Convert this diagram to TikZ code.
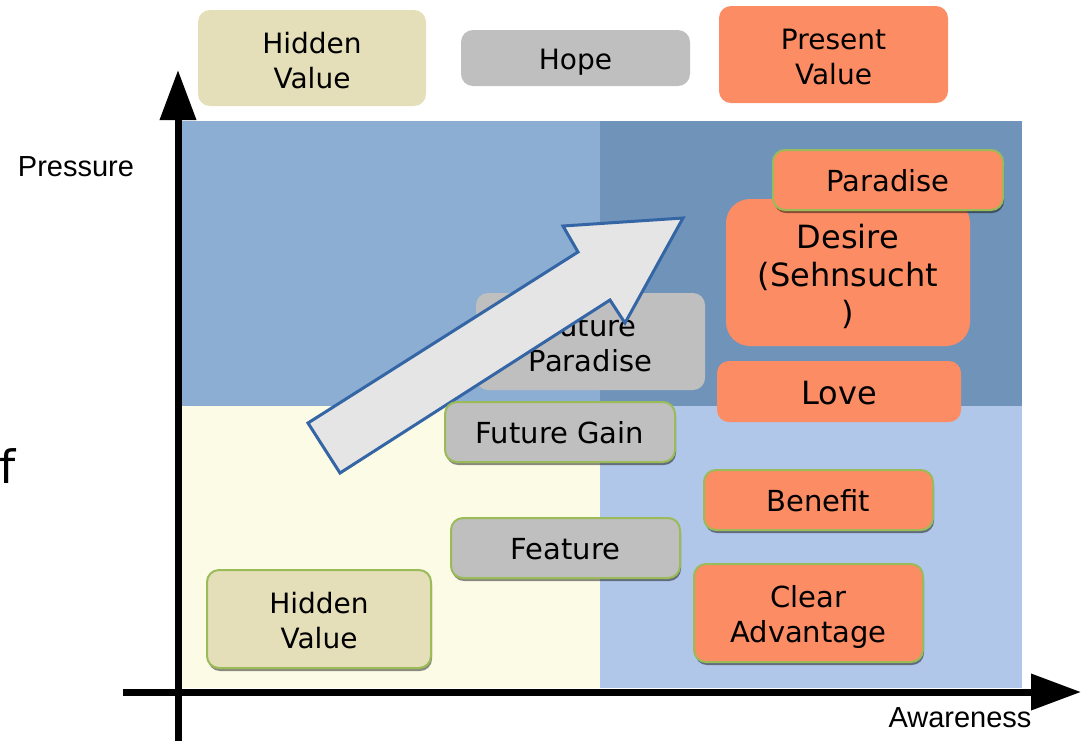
\documentclass[tikz,border=0pt]{standalone}
\usepackage{fontspec}
\usepackage{tikz}
\usetikzlibrary{arrows.meta,shadows}
\newfontfamily\boxfont{DejaVu Sans}
\newfontfamily\axisfont{Liberation Sans}
\definecolor{tanfill}{RGB}{228,223,184}
\definecolor{grayfill}{RGB}{191,191,191}
\definecolor{salmon}{RGB}{252,140,100}
\definecolor{framegreen}{RGB}{155,187,89}
\definecolor{quadTL}{RGB}{141,174,211}
\definecolor{quadTR}{RGB}{112,148,185}
\definecolor{quadBL}{RGB}{252,251,230}
\definecolor{quadBR}{RGB}{177,199,233}
\definecolor{arrowedge}{RGB}{52,101,164}
\newcommand{\dropline}[1]{\rule{0pt}{#1}}

\begin{document}
\begin{tikzpicture}[x=0.5pt,y=-0.5pt,
    box/.style={rounded corners=6pt,inner sep=0pt,align=center,
                font=\boxfont\fontsize{14.5}{17.5}\selectfont},
    framed/.style={draw=framegreen,line width=1pt,
                   drop shadow={shadow xshift=0.5pt,shadow yshift=-1.5pt,opacity=0.45,fill=black}},
    axis/.style={line width=3.5pt,-{Triangle[length=25pt,width=17.5pt]}},
    axislabel/.style={font=\axisfont\fontsize{14.5}{17}\selectfont,inner sep=0pt}]
  \tikzstyle{topbox}=[box,font=\boxfont\fontsize{14}{17.5}\selectfont]
  \tikzstyle{bigbox}=[box,font=\boxfont\fontsize{16}{19}\selectfont]

  \useasboundingbox (0,0) rectangle (1081,741);

  % quadrants
  \fill[quadTL] (180,121) rectangle (600,406);
  \fill[quadTR] (600,121) rectangle (1022,406);
  \fill[quadBL] (180,406) rectangle (600,688);
  \fill[quadBR] (600,406) rectangle (1022,688);

  % axes
  \coordinate (yStart) at (178,741);
  \coordinate (yEnd)   at (178,70);
  \coordinate (xStart) at (123,692);
  \coordinate (xEnd)   at (1081,692);
  \draw[axis] (yStart) -- (yEnd);
  \draw[axis] (xStart) -- (xEnd);
  \node[axislabel] (pressure)  at (76,167)  {Pressure};
  \node[axislabel] (awareness) at (960,718) {Awareness};
  \node[font=\boxfont\fontsize{23}{28}\selectfont,anchor=base west,inner sep=0pt] (cutF) at (-1,483) {f};

  % legend row
  \node[topbox,fill=tanfill,minimum width=114pt,minimum height=48pt]    (hvTop) at (312,58)    {\dropline{13.1pt}Hidden\\Value};
  \node[topbox,fill=grayfill,minimum width=114.5pt,minimum height=28pt] (hope)  at (575.5,58)  {\dropline{14.2pt}Hope};
  \node[topbox,fill=salmon,minimum width=114.5pt,minimum height=48.5pt] (pvTop) at (833.5,54.5) {\dropline{12.7pt}Present\\Value};

  \node[box,fill=grayfill,minimum width=114.5pt,minimum height=48.5pt] (futParadise) at (590.5,341.5) {\dropline{12.6pt}Future\\Paradise};

  % big arrow
  \draw[fill=black!10,draw=arrowedge,line width=1.5pt]
    (308,423) -- (340,473) -- (610,300) -- (625,323) -- (683,218) -- (563,226) -- (578,252) -- cycle;

  \node[bigbox,fill=salmon,rounded corners=12pt,minimum width=122pt,minimum height=73.5pt] (desire) at (848,272.5) {\dropline{16.2pt}Desire\\(Sehnsucht\\)};
  \node[box,framed,fill=salmon,minimum width=115pt,minimum height=30pt] (paradise) at (888,180) {\dropline{12pt}Paradise};
  \node[bigbox,fill=salmon,minimum width=122pt,minimum height=30.5pt] (love) at (839,391.5) {\dropline{13.7pt}Love};
  \node[box,framed,fill=grayfill,minimum width=115pt,minimum height=30pt] (futGain) at (560,432) {\dropline{11.8pt}Future Gain};
  \node[box,framed,fill=salmon,minimum width=114.5pt,minimum height=30pt] (benefit) at (818.5,500) {\dropline{12pt}Benefit};
  \node[box,framed,fill=grayfill,minimum width=114.5pt,minimum height=30pt] (feature) at (565.5,548) {\dropline{11.6pt}Feature};
  \node[box,framed,fill=salmon,minimum width=114.5pt,minimum height=49pt] (clearAdv) at (808.5,613) {\dropline{14.5pt}Clear\\Advantage};
  \node[topbox,framed,fill=tanfill,minimum width=112pt,minimum height=49pt] (hvBottom) at (319,619) {\dropline{12.1pt}Hidden\\Value};
\end{tikzpicture}
\end{document}
